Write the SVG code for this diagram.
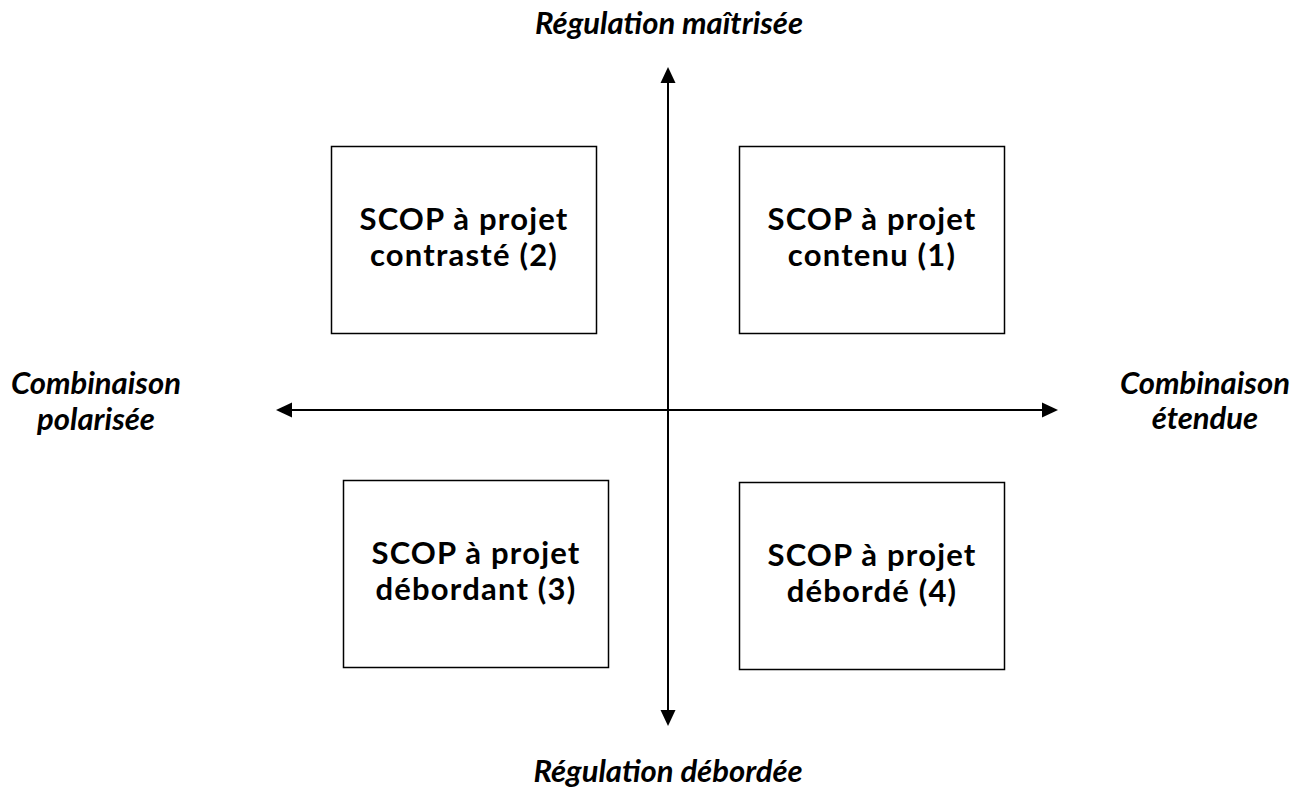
<svg xmlns="http://www.w3.org/2000/svg" width="1293" height="788" viewBox="0 0 1293 788">
<style>
.box{fill:#fff;stroke:#000;stroke-width:1.5}
.bt{font-family:Lato,"Open Sans","Liberation Sans",sans-serif;font-weight:bold;font-size:31px;letter-spacing:1.2px;text-anchor:middle;fill:#000}
.ax{font-family:Lato,"Open Sans","Liberation Sans",sans-serif;font-weight:bold;font-style:italic;font-size:31px;text-anchor:middle;fill:#000}
.ln{stroke:#000;stroke-width:2;fill:none}
</style>
<rect width="1293" height="788" fill="#fff"/>
<g id="connectors">
<line class="ln" x1="668" y1="82" x2="668" y2="711"/>
<polygon points="668,67 660.5,83 675.5,83"/>
<polygon points="668,726 660.5,710 675.5,710"/>
<line class="ln" x1="290" y1="410" x2="1044" y2="410"/>
<polygon points="276,410 292,402.5 292,417.5"/>
<polygon points="1058,410 1042,402.5 1042,417.5"/>
</g>
<g id="node2"><rect class="box" x="331.5" y="146.5" width="265" height="187"/>
<text class="bt" x="464" y="230">SCOP à projet</text><text class="bt" x="464" y="266">contrasté (2)</text></g>
<g id="node1"><rect class="box" x="739.5" y="146.5" width="265" height="187"/>
<text class="bt" x="872" y="230">SCOP à projet</text><text class="bt" x="872" y="266">contenu (1)</text></g>
<g id="node3"><rect class="box" x="343.5" y="480.5" width="265" height="187"/>
<text class="bt" x="476" y="564">SCOP à projet</text><text class="bt" x="476" y="600">débordant (3)</text></g>
<g id="node4"><rect class="box" x="739.5" y="482.5" width="265" height="187"/>
<text class="bt" x="872" y="566">SCOP à projet</text><text class="bt" x="872" y="602">débordé (4)</text></g>
<g id="labels">
<text class="ax" x="669" y="34">Régulation maîtrisée</text>
<text class="ax" x="668" y="782">Régulation débordée</text>
<text class="ax" x="96" y="394">Combinaison</text>
<text class="ax" x="96" y="430">polarisée</text>
<text class="ax" x="1205" y="394">Combinaison</text>
<text class="ax" x="1205" y="429">étendue</text>
</g>
</svg>
